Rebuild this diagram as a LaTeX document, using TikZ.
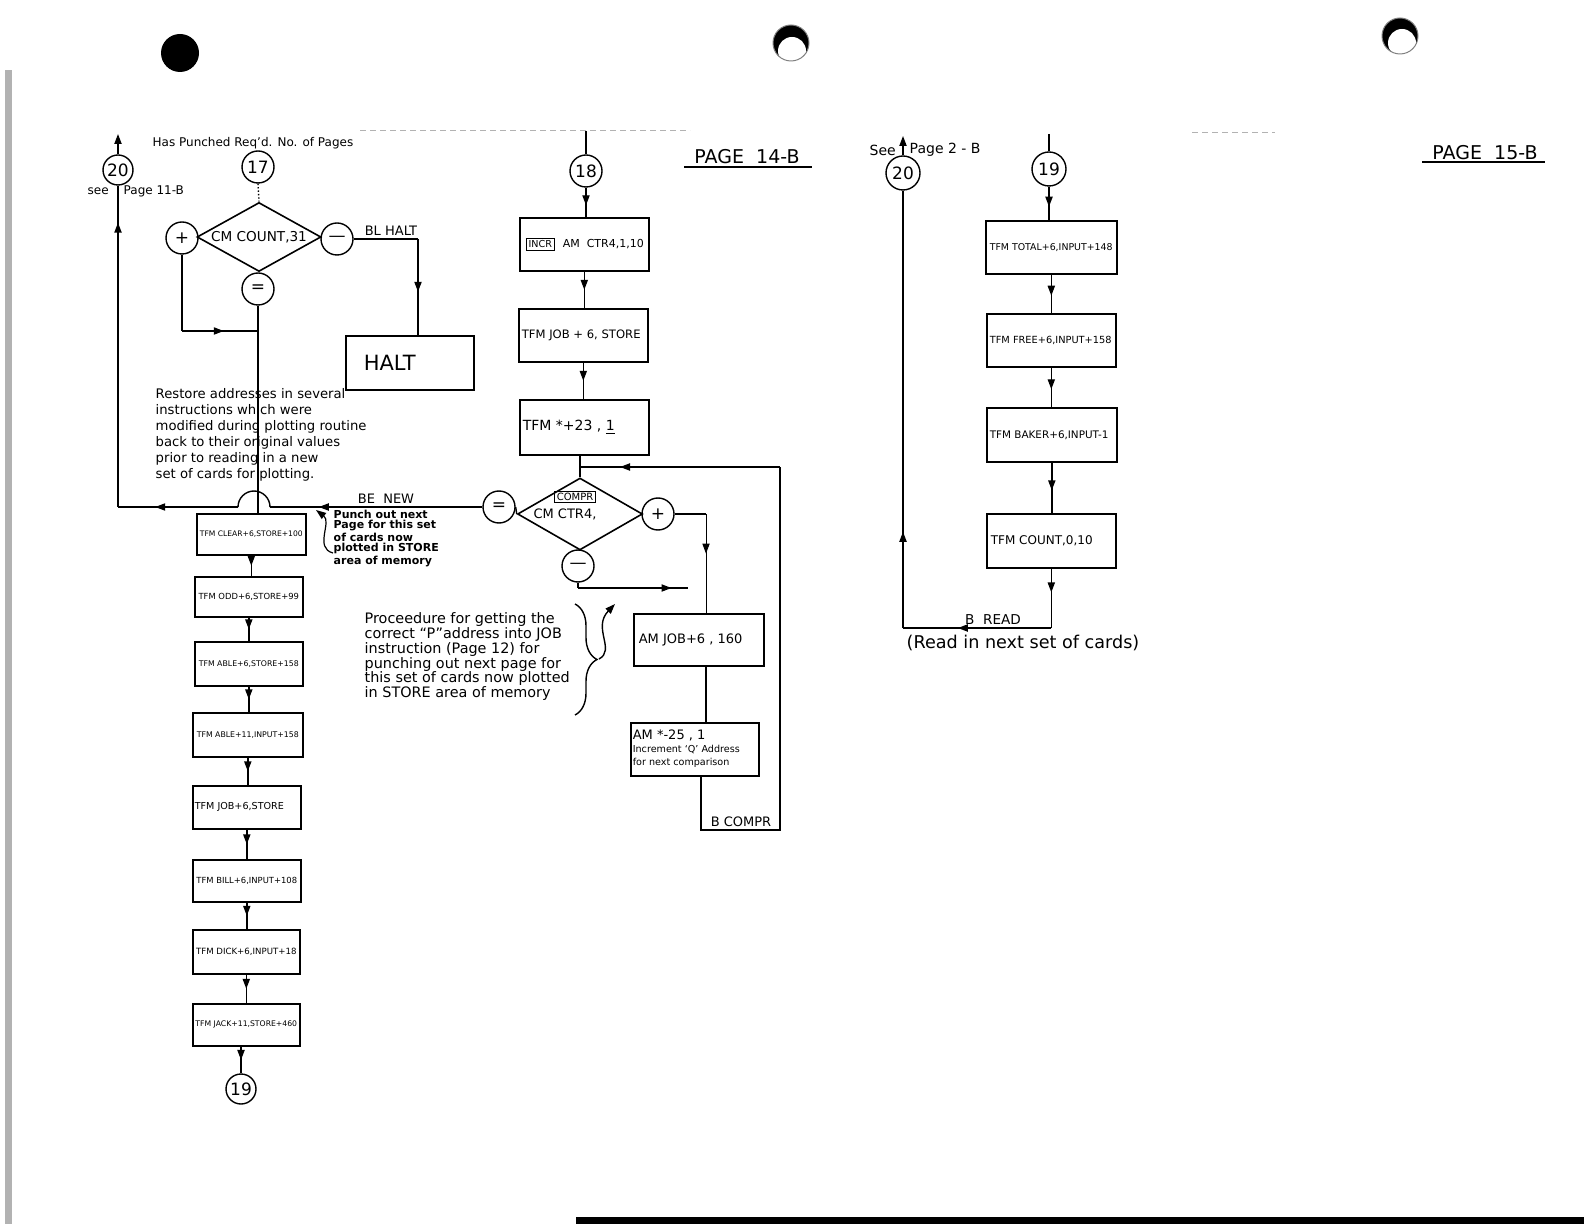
\documentclass[tikz,border=0pt]{standalone}
\usepackage{fontspec}
\usepackage{graphicx}
\setmainfont{DejaVu Sans}
\usetikzlibrary{shapes.geometric,arrows.meta,decorations.markings,decorations.pathreplacing}
\newcommand\myfs[2]{\fontsize{#1}{#2}\selectfont}
\newcommand\lbox[2]{\makebox[#1][l]{#2}}
\begin{document}
\begin{tikzpicture}[x=0.5pt,y=-0.5pt,line width=0.7pt,
  box/.style={draw,rectangle,inner sep=0pt,anchor=north west,line width=0.8pt},
  circ/.style={draw,circle,minimum size=#1,inner sep=0pt,font=\myfs{8.5}{10}},
  circ/.default=16pt,
  dia/.style={draw,diamond,inner sep=0pt,line width=0.8pt},
  marr/.style={postaction={decorate},decoration={markings,mark=at position #1 with {\arrow{Triangle[length=5pt,width=3.6pt]}}}},
  marr/.default=0.5,
  arrowend/.style={-{Triangle[length=5pt,width=3.6pt]}},
  lbl/.style={inner sep=0pt},
]
\useasboundingbox (0,0) rectangle (1584,1224);

% ---- scan artefacts ----
\fill[black] (180,53) circle[radius=19];
\fill[black] (791,43) circle[radius=18];
\fill[white] (792,51) circle[radius=14];
\draw[gray,line width=0.5pt] (791,43) circle[radius=18];
\fill[black] (1400,36) circle[radius=18];
\fill[white] (1402,43) circle[radius=14];
\draw[gray,line width=0.5pt] (1400,36) circle[radius=18];
\fill[gray!60] (5,70) rectangle (12,1224);
\fill[black] (576,1217) rectangle (1584,1224);
\draw[gray!60,line width=0.5pt,dash pattern=on 3pt off 2pt] (360,131) -- (690,131);
\draw[gray!60,line width=0.5pt,dash pattern=on 3pt off 2pt] (1192,133) -- (1275,133);

% ---- page labels ----
\node[lbl,font=\myfs{9.5}{11}] (p14) at (747,157) {PAGE~~14-B};
\draw[line width=1pt] (684,167) -- (812,167);
\node[lbl,font=\myfs{9.5}{11}] (p15) at (1485,153) {PAGE~~15-B};
\draw[line width=1pt] (1422,162) -- (1545,162);

% ================= LEFT PART =================
\node[circ=15pt] (c20L) at (118,170) {20};
\coordinate (topL) at (118,134);
\draw[arrowend] (c20L.north) -- (topL);
\node[lbl,anchor=west,font=\myfs{6}{7}] at (87,191) {see};
\node[lbl,anchor=west,font=\myfs{6}{7}] at (123,191) {Page 11-B};
\node[lbl,anchor=west,font=\myfs{6}{7}] at (152,143) {Has Punched Req'd. No. of Pages};

\node[circ] (c17) at (258,167) {17};
\node[dia,minimum width=62pt,minimum height=34.5pt] (d1) at (259,237) {};
\node[lbl,font=\myfs{6.8}{8}] (d1t) at (d1.center) {CM COUNT,31};
\node[circ] (cplus1) at (182,238) {+};
\node[circ] (cminus1) at (337,239) {---};
\node[circ] (ceq1) at (258,289) {=};
\draw[densely dotted] (c17.south) -- (d1.north);

\node[box,minimum width=64pt,minimum height=27pt,font=\myfs{10.5}{12}] (halt) at (345,335) {\lbox{64pt}{\hspace{9pt}HALT}};
\coordinate (blh) at (418,239);
\draw (cminus1.east) -- (blh);
\draw[marr=0.55] (blh) -- (blh |- halt.north);
\node[lbl,anchor=south,inner ysep=1.5pt,font=\myfs{6.5}{7}] at (391,239) {BL HALT};

\coordinate (j1) at (258,331);
\draw (cplus1.south) -- (cplus1.south |- j1);
\draw[marr=0.55] (cplus1.south |- j1) -- (j1);

% left column boxes
\node[box,minimum width=54.5pt,minimum height=20.5pt,font=\myfs{3.8}{4.5}] (clear) at (196,513) {TFM CLEAR+6,STORE+100};
\node[box,minimum width=54pt,minimum height=20pt,font=\myfs{4.2}{5}] (odd) at (194,576) {TFM ODD+6,STORE+99};
\node[box,minimum width=54pt,minimum height=22pt,font=\myfs{3.9}{5}] (able6) at (194,641) {TFM ABLE+6,STORE+158};
\node[box,minimum width=55pt,minimum height=22pt,font=\myfs{3.9}{5}] (able11) at (192,712) {TFM ABLE+11,INPUT+158};
\node[box,minimum width=54pt,minimum height=21.5pt,font=\myfs{4.8}{5.5}] (jobL) at (192,785) {\lbox{54pt}{\hspace{1pt}TFM JOB+6,STORE}};
\node[box,minimum width=54pt,minimum height=21pt,font=\myfs{4.2}{5}] (bill) at (192,859) {TFM BILL+6,INPUT+108};
\node[box,minimum width=53.5pt,minimum height=22pt,font=\myfs{4.3}{5}] (dick) at (192,929) {TFM DICK+6,INPUT+18};
\node[box,minimum width=53.5pt,minimum height=21pt,font=\myfs{3.85}{5}] (jack) at (192,1003) {TFM JACK+11,STORE+460};
\node[circ=15pt] (c19b) at (241,1089) {19};

\draw (ceq1.south) -- (ceq1.south |- clear.north);
\draw[marr] (clear.south) -- (clear.south |- odd.north);
\draw[marr] (odd.south) -- (odd.south |- able6.north);
\draw[marr] (able6.south) -- (able6.south |- able11.north);
\draw[marr] (able11.south) -- (able11.south |- jobL.north);
\draw[marr] (jobL.south) -- (jobL.south |- bill.north);
\draw[marr] (bill.south) -- (bill.south |- dick.north);
\draw[marr] (dick.south) -- (dick.south |- jack.north);
\draw[marr] (c19b.north |- jack.south) -- (c19b.north);

\node[lbl,anchor=north west,align=left,font=\myfs{6.6}{8}] at (155,388) {Restore addresses in several\\instructions which were\\modified during plotting routine\\back to their original values\\prior to reading in a new\\set of cards for plotting.};

% ================= MIDDLE PART =================
\node[circ] (c18) at (586,171) {18};
\coordinate (top18) at (586,131);
\draw (top18) -- (c18.north);

\node[box,minimum width=64.5pt,minimum height=26.5pt,font=\myfs{5.5}{6.5}] (incr) at (519,217) {\lbox{64.5pt}{\hspace{3pt}{\myfs{4.8}{5}\setlength\fboxsep{1pt}\fbox{INCR}}\hspace{4pt}AM~~CTR4,1,10}};
\node[box,minimum width=64.5pt,minimum height=26.5pt,font=\myfs{5.8}{7}] (job) at (518,308) {\lbox{64.5pt}{\hspace{1.5pt}TFM JOB + 6, STORE}};
\node[box,minimum width=64.5pt,minimum height=27.5pt,font=\myfs{7}{8}] (tfm) at (519,399) {\lbox{64.5pt}{\hspace{1.5pt}TFM *+23 , \underline{1}}};

\draw[marr=0.6] (c18.south) -- (c18.south |- incr.north);
\draw[marr] (incr.south) -- (incr.south |- job.north);
\draw[marr] (job.south) -- (job.south |- tfm.north);

\node[dia,minimum width=62.5pt,minimum height=36pt] (d2) at (580,514) {};
\node[lbl,font=\myfs{5}{6},draw,inner sep=1pt] (compr) at (575,497) {COMPR};
\node[lbl,font=\myfs{6.5}{7}] (d2t) at (565,514) {CM CTR4,};
\node[circ] (ceq2) at (499,507) {=};
\node[circ] (cplus2) at (658,514) {+};
\node[circ] (cminus2) at (578,566) {---};
\draw (d2.north |- tfm.south) -- (d2.north);
\draw (d2.west) -- (ceq2.east);

\node[box,minimum width=65pt,minimum height=26pt,font=\myfs{6.5}{7}] (amjob) at (633,613) {\lbox{65pt}{\hspace{2.5pt}AM JOB+6 , 160}};
\node[box,minimum width=64pt,minimum height=26.5pt,font=\myfs{4.8}{6.5}] (amstar) at (630,722) {\lbox{64pt}{\hspace{1pt}\begin{tabular}{@{}l@{}}{\myfs{6.5}{6.8}AM *-25 , 1}\\{\myfs{4.8}{6.5}Increment `Q' Address}\\{\myfs{4.8}{6.5}for next comparison}\end{tabular}}};

\coordinate (p2) at (706,514);
\draw (cplus2.east) -- (p2);
\draw[marr=0.4,line width=0.5pt] (p2) -- (p2 |- amjob.north);
\coordinate (m2a) at (578,588);
\coordinate (m2b) at (688,588);
\draw (cminus2.south) -- (m2a);
\draw[marr=0.85] (m2a) -- (m2b);
\draw (p2 |- amjob.south) -- (p2 |- amstar.north);

\coordinate (lb) at (701,830);
\coordinate (lr) at (780,830);
\coordinate (lt) at (780,467);
\coordinate (ll) at (580,467);
\draw (lb |- amstar.south) -- (lb) -- (lr) -- (lt);
\draw[marr=0.8] (lt) -- (ll);
\node[lbl,anchor=south,inner ysep=1.5pt,font=\myfs{6.5}{7}] at (741,830) {B COMPR};

% long return line with hop
\coordinate (hopR) at (270,507);
\coordinate (hopL) at (238,507);
\coordinate (hl) at (118,507);
\draw[marr=0.77] (ceq2.west) -- (hopR);
\draw (hopR) arc[start angle=0,end angle=-180,radius=16];
\draw[marr=0.69] (hopL) -- (hl);
\draw[marr=0.885] (hl) -- (c20L.south);
\node[lbl,anchor=south,inner ysep=1.5pt,font=\myfs{6.5}{7}] at (386,507) {BE~~NEW};

\node[lbl,anchor=north west,align=left,font=\bfseries\myfs{5.5}{5.15}] at (333,509) {Punch out next\\Page for this set\\of cards now\\plotted in STORE\\area of memory};
\draw[arrowend,line width=0.6pt] (333,553) .. controls (314,548) and (332,522) .. (316,510);

\node[lbl,anchor=north west,align=left,font=\myfs{7.2}{7.4}] at (364,612) {Proceedure for getting the\\correct ``P''address into JOB\\instruction (Page 12) for\\punching out next page for\\this set of cards now plotted\\in STORE area of memory};
\draw[decorate,decoration={brace,amplitude=11pt}] (575,604) -- (575,715);
\draw[arrowend] (599,659) .. controls (616,650) and (592,628) .. (615,604);

% ================= RIGHT PART =================
\node[circ=17pt] (c20R) at (903,173) {20};
\coordinate (top20R) at (903,136);
\draw[arrowend] (c20R.north) -- (top20R);
\node[lbl,anchor=west,font=\myfs{7}{8}] at (869,150) {See};
\node[lbl,anchor=west,font=\myfs{7}{8}] at (909,150) {Page 2 - B};

\node[circ=17pt] (c19R) at (1049,169) {19};
\coordinate (top19R) at (1049,134);
\draw (top19R) -- (c19R.north);

\node[box,minimum width=65.5pt,minimum height=26.5pt,font=\myfs{4.7}{6}] (total) at (985,220) {\lbox{65.5pt}{\hspace{2pt}TFM TOTAL+6,INPUT+148}};
\node[box,minimum width=64.5pt,minimum height=26.5pt,font=\myfs{4.9}{6}] (free) at (986,313) {\lbox{64.5pt}{\hspace{1.5pt}TFM FREE+6,INPUT+158}};
\node[box,minimum width=65pt,minimum height=27pt,font=\myfs{5.2}{6}] (baker) at (986,407) {\lbox{65pt}{\hspace{1.5pt}TFM BAKER+6,INPUT-1}};
\node[box,minimum width=64.5pt,minimum height=27pt,font=\myfs{6}{7}] (countb) at (986,513) {\lbox{64.5pt}{\hspace{2pt}TFM COUNT,0,10}};

\draw[marr=0.6] (c19R.south) -- (c19R.south |- total.north);
\draw[marr=0.55] (total.south) -- (total.south |- free.north);
\draw[marr=0.55] (free.south) -- (free.south |- baker.north);
\draw[marr=0.55] (baker.south) -- (baker.south |- countb.north);

\coordinate (rb) at (903,628);
\draw[marr=0.4] (countb.south) -- (countb.south |- rb);
\draw[marr=0.63] (countb.south |- rb) -- (rb);
\draw[marr=0.22] (rb) -- (c20R.south);
\node[lbl,anchor=south,inner ysep=1.5pt,font=\myfs{6.8}{7}] at (993,628) {B~~READ};
\node[lbl,anchor=west,font=\myfs{8.8}{9}] at (906,643) {(Read in next set of cards)};

\end{tikzpicture}
\end{document}
